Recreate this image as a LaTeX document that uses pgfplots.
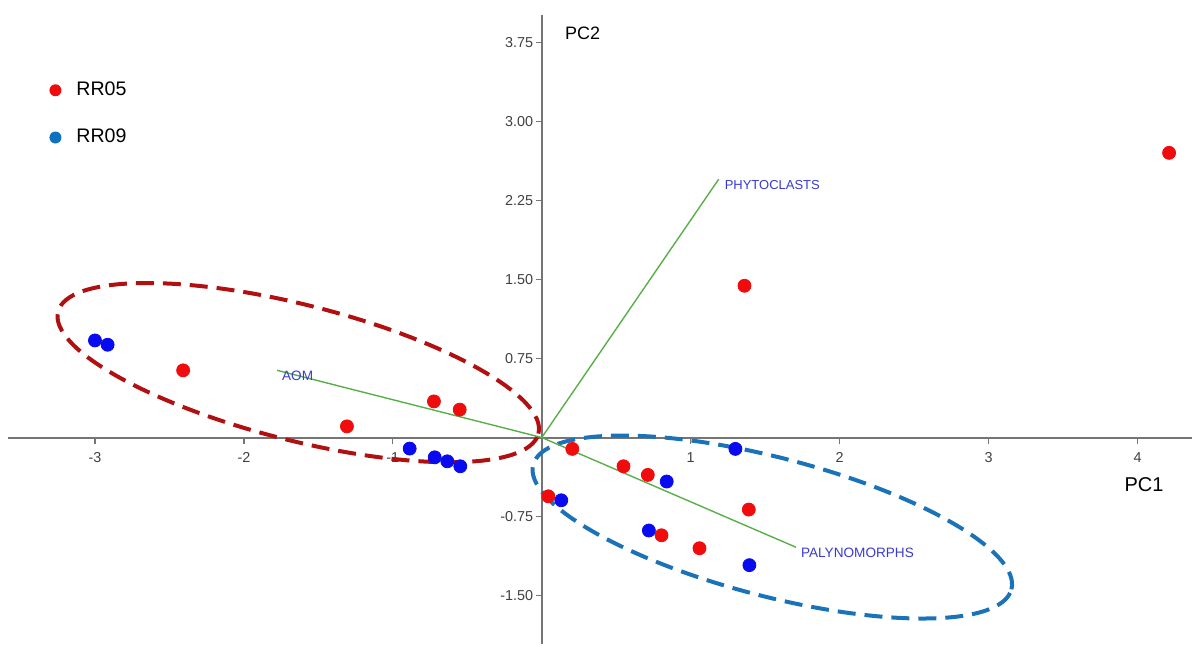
\documentclass[border=0pt]{standalone}
\usepackage{fontspec}
\setmainfont{Liberation Sans}
\usepackage{pgfplots}
\pgfplotsset{compat=1.18}
\definecolor{ptred}{HTML}{F00C0C}
\definecolor{ptblue}{HTML}{0A0AF0}
\definecolor{legblue}{HTML}{1070C0}
\definecolor{ellred}{HTML}{B01010}
\definecolor{ellblue}{HTML}{1A72B8}
\definecolor{vecgreen}{HTML}{5AAE4A}
\definecolor{labblue}{HTML}{3A3AD0}
\definecolor{axisgrey}{HTML}{757575}
\definecolor{ticktext}{HTML}{404040}
\begin{document}
\begin{tikzpicture}
\begin{axis}[
  scale only axis, width=592.5pt, height=315pt,
  xmin=-3.584, xmax=4.366, ymin=-1.965, ymax=4.012,
  axis lines=middle,
  axis line style={draw=axisgrey, line width=1pt, -},
  xtick={-3,-2,-1,1,2,3,4},
  ytick={-1.5,-0.75,0.75,1.5,2.25,3,3.75},
  tick align=outside, major tick length=3pt,
  tick style={draw=axisgrey, line width=0.6pt},
  ticklabel style={font=\fontsize{7.2}{8}\selectfont, text=ticktext},
  yticklabel style={xshift=2.2pt, /pgf/number format/.cd, fixed, fixed zerofill, precision=2},
  xticklabel style={yshift=-1pt, /pgf/number format/.cd, fixed, precision=0},
  /pgf/number format/assume math mode=true,
  clip=false,
  legend style={at={(rel axis cs:0.022,0.907)}, anchor=north west, draw=none, fill=none,
    font=\fontsize{9.8}{11}\selectfont, row sep=11.3pt},
  legend cell align=left,
]
% bounding box padding
\path (rel axis cs:0,0) ++(-4pt,0pt);
\path (rel axis cs:1,1) ++(0pt,7.5pt);

% ellipses
\draw[ellred, line width=2pt, dash pattern=on 9pt off 4.5pt]
  (axis cs:-1.635,0.616) circle[x radius=124pt, y radius=33.9pt, rotate=-14.25];
\draw[ellblue, line width=2pt, dash pattern=on 9pt off 4.5pt]
  (axis cs:1.548,-0.850) circle[x radius=123.65pt, y radius=34.65pt, rotate=-14.6];

% loading vectors
\addplot[vecgreen, line width=0.7pt, forget plot] coordinates {(0,0) (1.188,2.453)};
\addplot[vecgreen, line width=0.7pt, forget plot] coordinates {(0,0) (-1.777,0.638)};
\addplot[vecgreen, line width=0.7pt, forget plot] coordinates {(0,0) (1.707,-1.042)};
\node[anchor=west, text=labblue, font=\fontsize{6.5}{7}\selectfont, xshift=-0.5pt, yshift=-3pt] at (axis cs:1.188,2.453) {PHYTOCLASTS};
\node[anchor=west, text=labblue, font=\fontsize{6.8}{7}\selectfont, xshift=-1pt, yshift=-2.5pt] at (axis cs:-1.777,0.638) {AOM};
\node[anchor=west, text=labblue, font=\fontsize{6.8}{7}\selectfont, xshift=-1pt, yshift=-2.8pt] at (axis cs:1.707,-1.042) {PALYNOMORPHS};

% RR05
\addplot[only marks, mark=*, mark size=3.25pt, color=ptred, forget plot] coordinates {
 (4.212,2.703) (1.361,1.441) (-2.408,0.638) (-1.308,0.106) (-0.724,0.343) (-0.551,0.265)
 (0.205,-0.108) (0.549,-0.273) (0.712,-0.355) (0.044,-0.558) (1.390,-0.684)
 (0.804,-0.928) (1.059,-1.051)
};
% RR09
\addplot[only marks, mark=*, mark size=3.25pt, color=ptblue, forget plot] coordinates {
 (-3.000,0.922) (-2.915,0.881) (-0.887,-0.105) (-0.719,-0.188) (-0.634,-0.226) (-0.547,-0.273)
 (1.300,-0.108) (0.839,-0.418) (0.131,-0.596) (0.719,-0.883) (1.394,-1.212)
};

\addlegendimage{legend image code/.code={\path[draw=none,fill=none] (0pt,-3pt) (16pt,3pt); \fill[ptred,draw=none] (7.5pt,0pt) circle (3pt);}}
\addlegendentry{RR05}
\addlegendimage{legend image code/.code={\path[draw=none,fill=none] (0pt,-3pt) (16pt,3pt); \fill[legblue,draw=none] (7.5pt,0pt) circle (3pt);}}
\addlegendentry{RR09}

% axis titles
\node[font=\fontsize{9}{11}\selectfont] at (axis cs:0.274,3.84) {PC2};
\node[font=\fontsize{10}{12}\selectfont] at (axis cs:4.044,-0.447) {PC1};
\end{axis}
\end{tikzpicture}
\end{document}
